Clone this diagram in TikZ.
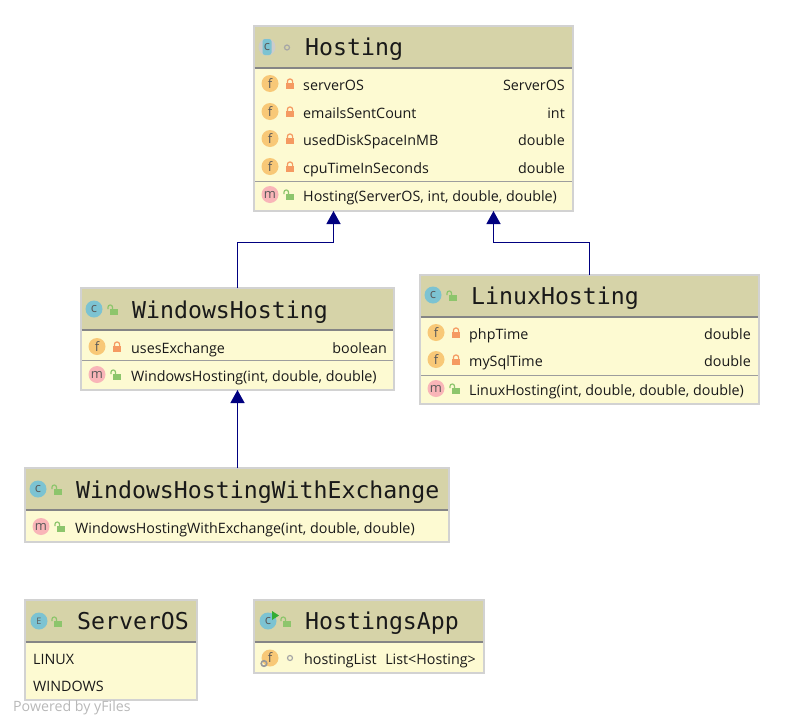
\documentclass[tikz,border=0pt]{standalone}
\usepackage{fontspec}
\setmainfont{Open Sans}
\newfontfamily\titlefont{DejaVu Sans Mono}
\usetikzlibrary{arrows.meta,calc}
\definecolor{hdr}{HTML}{D6D3A8}
\definecolor{bodyc}{HTML}{FDFAD2}
\definecolor{bord}{HTML}{D2D2D2}
\definecolor{sepc}{HTML}{858585}
\definecolor{fcol}{HTML}{F8C877}
\definecolor{mcol}{HTML}{F9B5B8}
\definecolor{ccol}{HTML}{7CC3D2}
\definecolor{lockr}{HTML}{F59A62}
\definecolor{lockg}{HTML}{8DC56C}
\definecolor{edge}{HTML}{000080}
\tikzset{
  x=1pt,y=-1pt,
  umlbox/.style={draw=bord,line width=1.3pt,fill=bodyc,inner sep=0pt,outer sep=0pt,rectangle},
  titletext/.style={anchor=base west,inner sep=0pt,font=\titlefont\fontsize{23.2}{23.2}\selectfont,text=black!90},
  rowtext/.style={anchor=base west,inner sep=0pt,font=\fontsize{14.3}{15}\selectfont,text=black!90},
  typetext/.style={anchor=base east,inner sep=0pt,font=\fontsize{14.3}{15}\selectfont,text=black!90},
  badge/.style={circle,minimum size=17pt,inner sep=0pt,font=\fontsize{13}{13}\selectfont,text=black!65},
  extends/.style={draw=edge,line width=1.3pt,-{Triangle[length=13pt,width=14pt,fill=edge]}},
  ring/.style={draw=black!35,line width=1.2pt,fill=none},
  pics/lockclosed/.style={code={
    \draw[lockr,line width=1.2pt,rounded corners=2.4pt] (-2.6,0) -- (-2.6,-5) -- (2.6,-5) -- (2.6,0);
    \fill[lockr] (-4,-1) rectangle (4,5);}},
  pics/lockopen/.style={code={
    \draw[lockg,line width=1.2pt,rounded corners=2.2pt] (-6,-1) -- (-6,-5) -- (-1.5,-5) -- (-1.5,0);
    \fill[lockg] (-4,-1) rectangle (4,5);}},
}
% \umlframe{name}{x1}{y1}{x2}{y2}{headerbottom}
\newcommand{\umlframe}[6]{%
  \node[umlbox,minimum width=#4-#2,minimum height=#5-#3,anchor=north west] (#1) at (#2,#3) {};
  \fill[hdr] (#2+0.65,#3+0.65) rectangle (#4-0.65,#6);
  \draw[sepc,line width=1.1pt] (#2+0.65,#6) -- (#4-0.65,#6);
}
\newcommand{\umlsep}[3]{\draw[sepc!80,line width=0.9pt] (#1,#3) -- (#2,#3);}
% \fieldrow{name}{iconx}{lockx}{textx}{y}{rightx}{text}{type}
\newcommand{\fieldrow}[8]{%
  \node[badge,fill=fcol] (#1i) at (#2,#5-1.5) {f};
  \pic at (#3,#5-1) {lockclosed};
  \node[rowtext] (#1t) at (#4,#5+5) {#7};
  \node[typetext] (#1v) at (#6,#5+5) {#8};
}
% \methodrow{name}{iconx}{lockx}{textx}{y}{text}
\newcommand{\methodrow}[6]{%
  \node[badge,fill=mcol] (#1i) at (#2,#5-1.5) {m};
  \pic at (#3,#5-1) {lockopen};
  \node[rowtext] (#1t) at (#4,#5+5) {#6};
}
\begin{document}
\begin{tikzpicture}
\useasboundingbox (0,0) rectangle (785,726);
% Hosting
\umlframe{hosting}{254}{26}{573}{211}{68}
\umlsep{255}{572}{181}
\node[circle,fill=black!20,minimum size=17pt,inner sep=0pt] (hostingb) at (267,47) {};
\node[rectangle,rounded corners=2.5pt,fill=ccol,minimum width=9pt,minimum height=16pt,inner sep=0pt,font=\fontsize{13}{13}\selectfont,text=black!65] (hostingc) at (267,47) {c};
\draw[ring] (287,47.5) circle[radius=2.5];
\node[titletext] (hostingn) at (305,55) {Hosting};
\fieldrow{h1}{270}{290}{303}{85}{565}{serverOS}{ServerOS}
\fieldrow{h2}{270}{290}{303}{113}{565}{emailsSentCount}{int}
\fieldrow{h3}{270}{290}{303}{140}{565}{usedDiskSpaceInMB}{double}
\fieldrow{h4}{270}{290}{303}{168}{565}{cpuTimeInSeconds}{double}
\methodrow{h5}{270}{290}{303}{196}{Hosting(ServerOS, int, double, double)}
% WindowsHosting
\umlframe{wh}{81}{288}{394}{390}{330}
\umlsep{82}{393}{360}
\node[badge,fill=ccol] (whc) at (94,309) {c};
\pic at (114,310) {lockopen};
\node[titletext] (whn) at (132,318) {WindowsHosting};
\fieldrow{w1}{97}{117}{131}{348}{387}{usesExchange}{boolean}
\methodrow{w2}{97}{117}{131}{376}{WindowsHosting(int, double, double)}
% LinuxHosting
\umlframe{lh}{420}{275}{759}{404}{317}
\umlsep{421}{758}{375}
\node[badge,fill=ccol] (lhc) at (433,295) {c};
\pic at (453,296) {lockopen};
\node[titletext] (lhn) at (471,304) {LinuxHosting};
\fieldrow{l1}{436}{456}{469}{334}{751}{phpTime}{double}
\fieldrow{l2}{436}{456}{469}{361}{751}{mySqlTime}{double}
\methodrow{l3}{436}{456}{469}{390}{LinuxHosting(int, double, double, double)}
% WindowsHostingWithExchange
\umlframe{wx}{25}{468}{449}{542}{510}
\node[badge,fill=ccol] (wxc) at (38,489) {c};
\pic at (58,490) {lockopen};
\node[titletext] (wxn) at (76,498) {WindowsHostingWithExchange};
\methodrow{x1}{41}{61}{75}{528}{WindowsHostingWithExchange(int, double, double)}
% ServerOS
\umlframe{so}{25}{600}{197}{700}{642}
\node[badge,fill=ccol,font=\fontsize{9}{9}\selectfont] (soc) at (39,621) {E};
\pic at (58,622) {lockopen};
\node[titletext] (son) at (77,629) {ServerOS};
\node[rowtext] (so1) at (33,664) {LINUX};
\node[rowtext] (so2) at (33,691) {WINDOWS};
% HostingsApp
\umlframe{ha}{254}{600}{484}{673}{642}
\node[badge,fill=ccol] (hac) at (268,621) {c};
\fill[green!60!black!80] (272,611) -- (279,615.5) -- (272,620) -- cycle;
\pic at (287,622) {lockopen};
\node[titletext] (han) at (305,629) {HostingsApp};
\node[badge,fill=fcol] (hai) at (270,658) {f};
\draw[black!40,line width=1.6pt] (264,663.5) circle[radius=2.8];
\draw[ring] (290,658) circle[radius=2.5];
\node[rowtext] (hat) at (304,664) {hostingList};
\node[typetext] (hav) at (476,664) {List<Hosting>};
% Connectors
\draw[extends] (wh.north) -- ++(0,-45.5) -| ($(hosting.south)+(-80,0)$);
\draw[extends] (lh.north) -- ++(0,-32.5) -| ($(hosting.south)+(80,0)$);
\draw[extends] (wx.north -| wh.south) -- (wh.south);
\node[anchor=base west,inner sep=0pt,text=black!28,font=\fontsize{14.2}{15}\selectfont] (yf) at (13,711) {Powered by yFiles};
\end{tikzpicture}
\end{document}
